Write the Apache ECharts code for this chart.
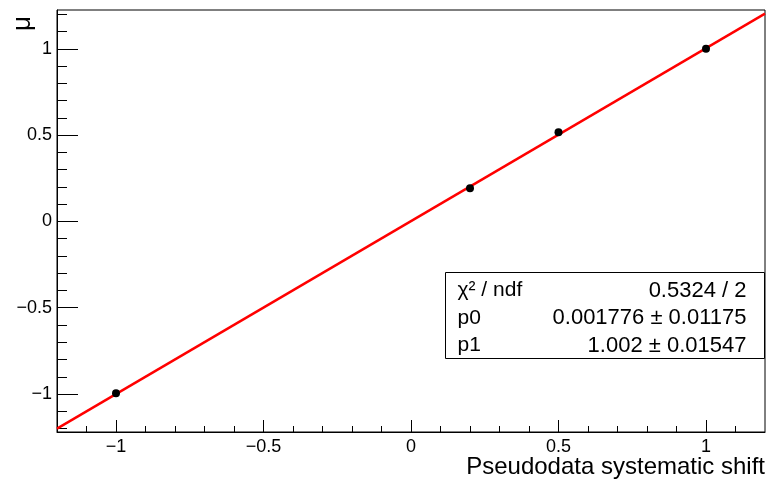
<!DOCTYPE html>
<html>
<head>
<meta charset="utf-8">
<script src="https://cdn.jsdelivr.net/npm/echarts@6/dist/echarts.min.js"></script>
<style>
  html, body { margin: 0; padding: 0; background: #fff; }
  #chart { width: 766px; height: 483px; }
</style>
</head>
<body>
<div id="chart"></div>
<script>
// measured points (mu vs pseudodata shift)
var shifts = [-1, 0.2, 0.5, 1]
var mu = [-0.995, 0.192, 0.517, 1.0]
var muErr = [0.018, 0.014, 0.014, 0.018]

// straight line fit, read at the frame edges
var fitX = [-1.2, 1.2]
var fitY = [-1.2006, 1.2042]

// ticks
var majorTicks = [-1, -0.5, 0, 0.5, 1]
var xMinorTicks = [-1.1, -0.9, -0.8, -0.7, -0.6, -0.4, -0.3, -0.2, -0.1, 0.1, 0.2, 0.3, 0.4, 0.6, 0.7, 0.8, 0.9, 1.1]
var yMinorTicks = [-1.2, -1.1, -0.9, -0.8, -0.7, -0.6, -0.4, -0.3, -0.2, -0.1, 0.1, 0.2, 0.3, 0.4, 0.6, 0.7, 0.8, 0.9, 1.1, 1.2]

// fit box
var statNames = ['χ² / ndf', 'p0', 'p1']
var statValues = ['0.5324 / 2', '0.001776 ± 0.01175', '1.002 ± 0.01547']

var FONT = 'Liberation Sans, Arial, Helvetica, sans-serif'
var chart = echarts.init(document.getElementById('chart'))

function minus(v) {
  return String(v).replace('-', '\u2212')
}

function points() {
  return shifts.map(function (x, i) { return [x, mu[i], muErr[i]] })
}

function fitLine() {
  return fitX.map(function (x, i) { return [x, fitY[i]] })
}

var lineOn = { show: true, onZero: false, lineStyle: { color: '#000', width: 1 } }
var lineOff = { show: false, onZero: false }

chart.setOption({
  animation: false,
  backgroundColor: '#fff',
  grid: {
    left: 57, right: 1, top: 10, bottom: 51,
    show: true, borderColor: '#000', borderWidth: 1, backgroundColor: 'transparent'
  },
  xAxis: [
    {
      type: 'value', min: -1.2, max: 1.2, splitLine: { show: false }, axisLine: lineOn,
      axisTick: { show: true, inside: true, length: 12, customValues: majorTicks, lineStyle: { color: '#000' } },
      axisLabel: {
        customValues: majorTicks, margin: 6, color: '#000',
        fontFamily: FONT, fontSize: 18, formatter: minus
      }
    },
    {
      type: 'value', min: -1.2, max: 1.2, position: 'bottom', splitLine: { show: false }, axisLine: lineOff,
      axisTick: { show: true, inside: true, length: 6, customValues: xMinorTicks, lineStyle: { color: '#000' } },
      axisLabel: { show: false }
    }
  ],
  yAxis: [
    {
      type: 'value', min: -1.22, max: 1.225, splitLine: { show: false }, axisLine: lineOn,
      axisTick: { show: true, inside: true, length: 21, customValues: majorTicks, lineStyle: { color: '#000' } },
      axisLabel: {
        customValues: majorTicks, margin: 5, color: '#000',
        fontFamily: FONT, fontSize: 18, formatter: minus
      }
    },
    {
      type: 'value', min: -1.22, max: 1.225, position: 'left', splitLine: { show: false }, axisLine: lineOff,
      axisTick: { show: true, inside: true, length: 10, customValues: yMinorTicks, lineStyle: { color: '#000' } },
      axisLabel: { show: false }
    }
  ],
  series: [
    {
      type: 'line',
      data: fitLine(),
      showSymbol: false,
      lineStyle: { color: '#ff0000', width: 2.4 },
      z: 2
    },
    {
      type: 'custom',
      data: points(),
      z: 3,
      renderItem: function (params, api) {
        var x = api.value(0), y = api.value(1), e = api.value(2)
        var c = api.coord([x, y])
        var hi = api.coord([x, y + e])
        var lo = api.coord([x, y - e])
        return {
          type: 'group',
          children: [
            { type: 'line', shape: { x1: c[0], y1: hi[1], x2: c[0], y2: lo[1] }, style: { stroke: '#000', lineWidth: 2 } },
            { type: 'circle', shape: { cx: c[0], cy: c[1], r: 4 }, style: { fill: '#000' } }
          ]
        }
      }
    }
  ],
  graphic: [
    {
      type: 'text', right: 1, top: 455,
      style: { text: 'Pseudodata systematic shift', fontFamily: FONT, fontSize: 24, fill: '#000' }
    },
    {
      type: 'text', x: 10, y: 31, rotation: Math.PI / 2,
      style: { text: 'μ', fontFamily: FONT, fontSize: 26, fill: '#000' }
    },
    {
      type: 'group', left: 445, top: 272,
      children: [
        { type: 'rect', shape: { x: 0, y: 0, width: 319, height: 86 }, style: { fill: '#fff', stroke: '#000', lineWidth: 1 } }
      ].concat(statNames.map(function (n, i) {
        return {
          type: 'text', x: 12, y: 18 + i * 27.5,
          style: { text: n, fontFamily: FONT, fontSize: 21, fill: '#000', verticalAlign: 'middle' }
        }
      })).concat(statValues.map(function (v, i) {
        return {
          type: 'text', x: 301, y: 18 + i * 27.5,
          style: { text: v, fontFamily: FONT, fontSize: 22, fill: '#000', align: 'right', verticalAlign: 'middle' }
        }
      }))
    }
  ]
})
</script>
</body>
</html>
